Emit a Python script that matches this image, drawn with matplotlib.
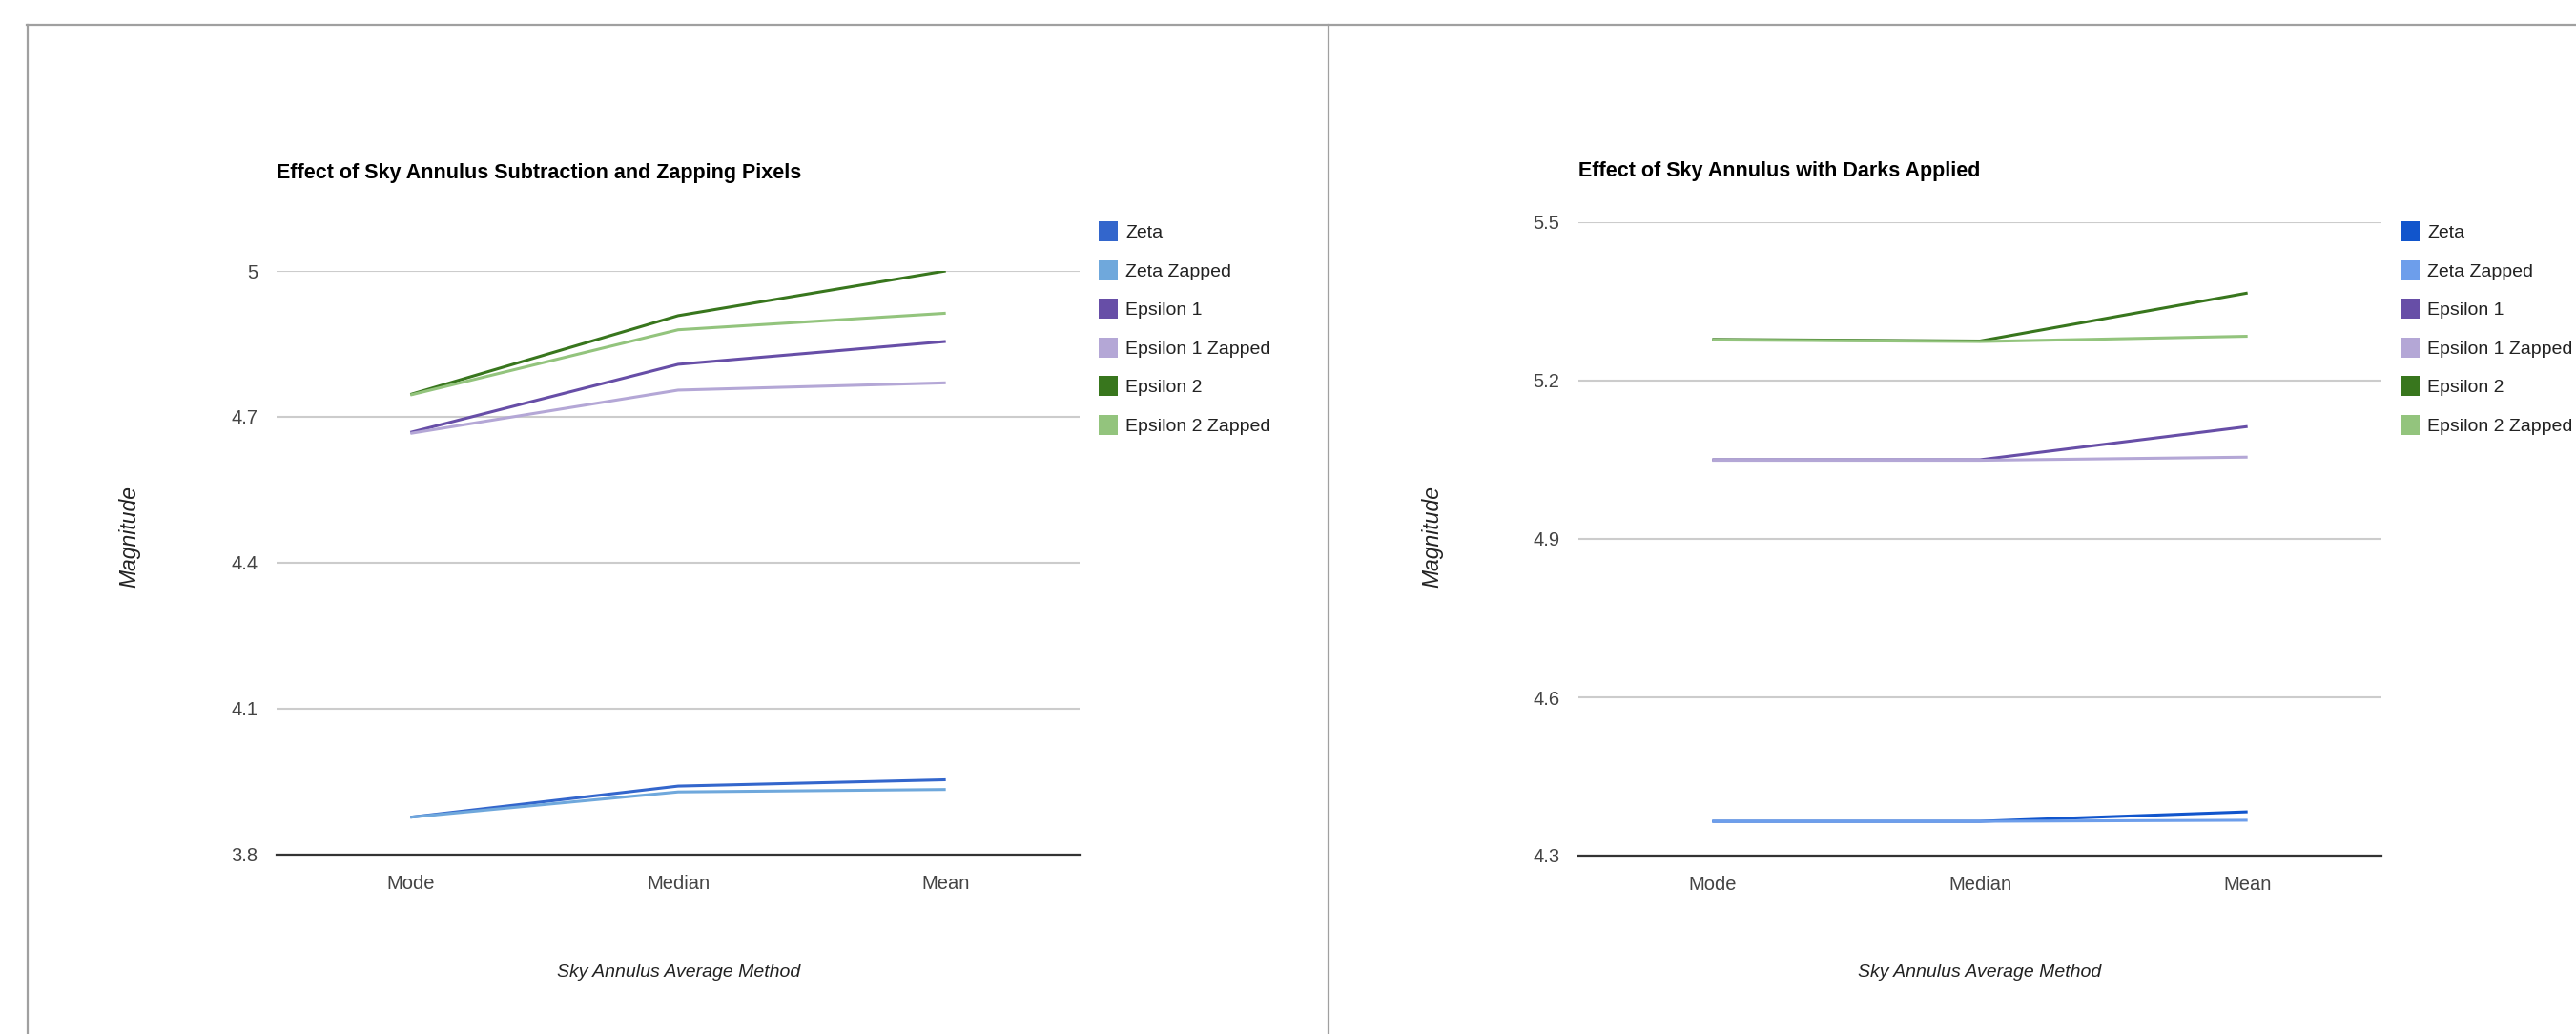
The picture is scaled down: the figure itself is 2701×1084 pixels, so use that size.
import matplotlib
matplotlib.use('Agg')
import matplotlib.pyplot as plt
from matplotlib.lines import Line2D
from matplotlib.patches import Patch

plt.rcParams['font.family'] = ['Liberation Sans', 'DejaVu Sans']

methods = ['Mode', 'Median', 'Mean']
series_names = ['Zeta', 'Zeta Zapped', 'Epsilon 1', 'Epsilon 1 Zapped', 'Epsilon 2', 'Epsilon 2 Zapped']

# sky annulus subtraction + zapping
zeta_a = [3.877, 3.941, 3.954]
zeta_zap_a = [3.877, 3.929, 3.934]
eps1_a = [4.668, 4.808, 4.855]
eps1_zap_a = [4.666, 4.755, 4.770]
eps2_a = [4.746, 4.908, 5.0]
eps2_zap_a = [4.745, 4.879, 4.913]

# darks applied
zeta_b = [4.365, 4.365, 4.383]
zeta_zap_b = [4.365, 4.365, 4.367]
eps1_b = [5.050, 5.050, 5.113]
eps1_zap_b = [5.049, 5.049, 5.055]
eps2_b = [5.278, 5.275, 5.366]
eps2_zap_b = [5.277, 5.274, 5.284]

colors_a = ['#3366CC', '#6FA8DC', '#674EA7', '#B4A7D6', '#38761D', '#93C47D']
colors_b = ['#1155CC', '#6D9EEB', '#674EA7', '#B4A7D6', '#38761D', '#93C47D']

W, H = 2701, 1084
fig = plt.figure(figsize=(W / 100, H / 100), dpi=100)


def box(x0, y_top, x1, y_bot):
    # pixel box (top-left origin) -> figure fraction rect
    return [x0 / W, 1 - y_bot / H, (x1 - x0) / W, (y_bot - y_top) / H]


def draw_chart(rect, data, colors, ylim, yticks, title, title_xy, ylab_xy, xlab_xy, leg_xy):
    ax = fig.add_axes(rect)
    xs = range(len(methods))
    for vals, c in zip(data, colors):
        ax.plot(xs, vals, color=c, lw=2.2, solid_capstyle='butt', zorder=3)
    ax.set_xlim(-0.5, 2.5)
    ax.set_ylim(*ylim)
    ax.set_yticks(yticks)
    ax.set_yticklabels([('%g' % t) for t in yticks])
    ax.set_xticks(list(xs))
    ax.set_xticklabels(methods)
    ax.grid(axis='y', color='#CCCCCC', lw=1.5, zorder=1)
    for s in ['top', 'right', 'left']:
        ax.spines[s].set_visible(False)
    ax.spines['bottom'].set_color('#333333')
    ax.spines['bottom'].set_linewidth(1.6)
    ax.spines['bottom'].set_zorder(4)
    ax.tick_params(length=0, labelsize=14.5, colors='#444444')
    ax.tick_params(axis='y', pad=14)
    ax.tick_params(axis='x', pad=15)

    fig.text(title_xy[0] / W, 1 - title_xy[1] / H, title, fontsize=15.5, fontweight='bold',
             ha='left', va='center', color='#000000')
    fig.text(ylab_xy[0] / W, 1 - ylab_xy[1] / H, 'Magnitude', fontsize=16.5, style='italic',
             rotation=90, ha='center', va='center', color='#222222')
    fig.text(xlab_xy[0] / W, 1 - xlab_xy[1] / H, 'Sky Annulus Average Method', fontsize=14,
             style='italic', ha='center', va='center', color='#222222')

    handles = [Patch(facecolor=c, edgecolor='none') for c in colors]
    fig.legend(handles, series_names, loc='upper left',
               bbox_to_anchor=(leg_xy[0] / W, 1 - leg_xy[1] / H),
               frameon=False, fontsize=14, handlelength=1.03, handleheight=1.29,
               handletextpad=0.42, labelspacing=1.0, borderpad=0, borderaxespad=0,
               labelcolor='#222222')
    return ax


draw_chart(box(290, 284, 1132, 896),
           [zeta_a, zeta_zap_a, eps1_a, eps1_zap_a, eps2_a, eps2_zap_a], colors_a,
           (3.8, 5.0), [3.8, 4.1, 4.4, 4.7, 5.0],
           'Effect of Sky Annulus Subtraction and Zapping Pixels',
           (290, 181), (136, 563), (712, 1019), (1152, 232))

draw_chart(box(1655, 233, 2497, 897),
           [zeta_b, zeta_zap_b, eps1_b, eps1_zap_b, eps2_b, eps2_zap_b], colors_b,
           (4.3, 5.5), [4.3, 4.6, 4.9, 5.2, 5.5],
           'Effect of Sky Annulus with Darks Applied',
           (1655, 180), (1502, 563), (2076, 1020), (2517, 232))

# panel borders
border = dict(color='#A0A0A0', lw=1.6, transform=fig.transFigure)
fig.add_artist(Line2D([28 / W, 1], [1 - 25.5 / H, 1 - 25.5 / H], **border))
fig.add_artist(Line2D([28.5 / W, 28.5 / W], [0, 1 - 25.5 / H], **border))
fig.add_artist(Line2D([1393 / W, 1393 / W], [0, 1 - 25.5 / H], **border))

fig.savefig('out.png', dpi=100, facecolor='white')
